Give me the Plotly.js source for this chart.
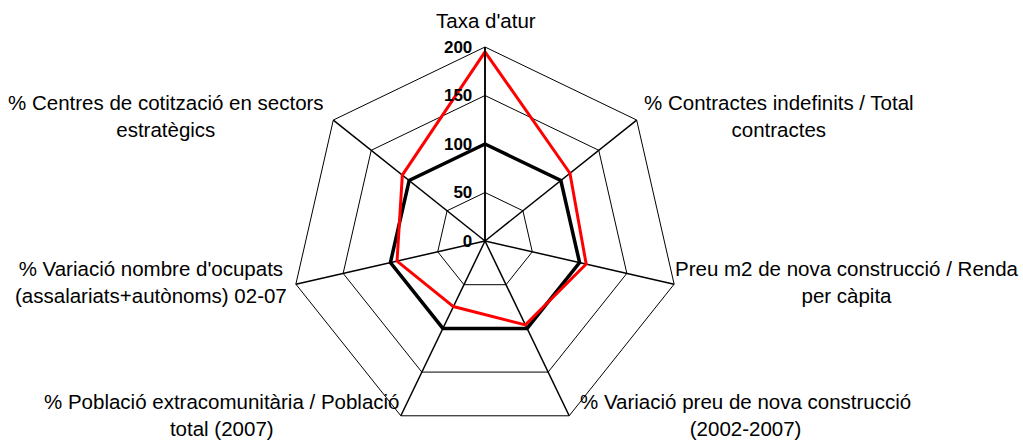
<!DOCTYPE html>
<html>
<head>
<meta charset="utf-8">
<script src="https://cdn.plot.ly/plotly-3.0.1.min.js"></script>
<style>html,body{margin:0;padding:0;background:#fff;}#chart{width:1023px;height:441px;}</style>
</head>
<body>
<div id="chart"></div>
<script>
const categories = [
  "Taxa d'atur",
  "% Contractes indefinits / Total contractes",
  "Preu m2 de nova construcció / Renda per càpita",
  "% Variació preu de nova construcció (2002-2007)",
  "% Població extracomunitària / Població total (2007)",
  "% Variació nombre d'ocupats (assalariats+autònoms) 02-07",
  "% Centres de cotització en sectors estratègics"
];
const labelText = [
  "Taxa d'atur",
  "% Contractes indefinits / Total<br>contractes",
  "Preu m2 de nova construcció / Renda<br>per càpita",
  "% Variació preu de nova construcció<br>(2002-2007)",
  "% Població extracomunitària / Població<br>total (2007)",
  "% Variació nombre d'ocupats<br>(assalariats+autònoms) 02-07",
  "% Centres de cotització en sectors<br>estratègics"
];
const referenceValues = [100, 100, 100, 100, 100, 100, 100];
const localValues = [195, 112, 107, 96, 75, 93, 109];
const radialTicks = [0, 50, 100, 150, 200];

const close = a => a.concat([a[0]]);

const W = 1023, H = 441;
const px = (x, y) => ({x: x / W, y: (H - y) / H});
const labelPos = [[486, 20], [779, 116], [847, 282], [745, 415], [222, 415], [151, 282], [166, 116]];

const font = "Liberation Sans, Arial, sans-serif";

const traces = [
  {type: 'scatterpolar', r: close(referenceValues), theta: close(categories), mode: 'lines',
   line: {color: '#000000', width: 3.5}, hoverinfo: 'skip', showlegend: false},
  {type: 'scatterpolar', r: close(localValues), theta: close(categories), mode: 'lines',
   line: {color: '#ff0000', width: 3}, hoverinfo: 'skip', showlegend: false}
];

const annotations = labelText.map((t, i) => {
  const p = px(labelPos[i][0], labelPos[i][1]);
  return {text: t, x: p.x, y: p.y, xref: 'paper', yref: 'paper', xanchor: 'center', yanchor: 'middle',
          align: 'center', showarrow: false, font: {family: font, size: 20.5, color: '#000'}};
});

const layout = {
  width: W, height: H,
  margin: {l: 0, r: 0, t: 0, b: 0},
  paper_bgcolor: '#fff', plot_bgcolor: '#fff',
  showlegend: false,
  polar: {
    domain: {x: [291 / W, 679 / W], y: [(H - 435) / H, (H - 47) / H]},
    bgcolor: 'rgba(0,0,0,0)',
    gridshape: 'linear',
    radialaxis: {
      range: [0, 200], tickvals: radialTicks, ticktext: radialTicks.map(String),
      angle: 90, side: 'counterclockwise', tickangle: 90,
      showline: true, linecolor: '#000', linewidth: 1.5,
      showgrid: true, gridcolor: '#000', gridwidth: 1,
      ticks: 'outside', ticklen: 6, tickcolor: 'rgba(0,0,0,0)',
      tickfont: {family: font, size: 17, color: '#000', weight: 'bold'}
    },
    angularaxis: {
      direction: 'clockwise', rotation: 90,
      showticklabels: false, ticks: '',
      showline: true, linecolor: '#000', linewidth: 1,
      showgrid: true, gridcolor: '#000', gridwidth: 1.5
    }
  },
  annotations: annotations
};

Plotly.newPlot('chart', traces, layout, {staticPlot: true, displayModeBar: false});
</script>
</body>
</html>
